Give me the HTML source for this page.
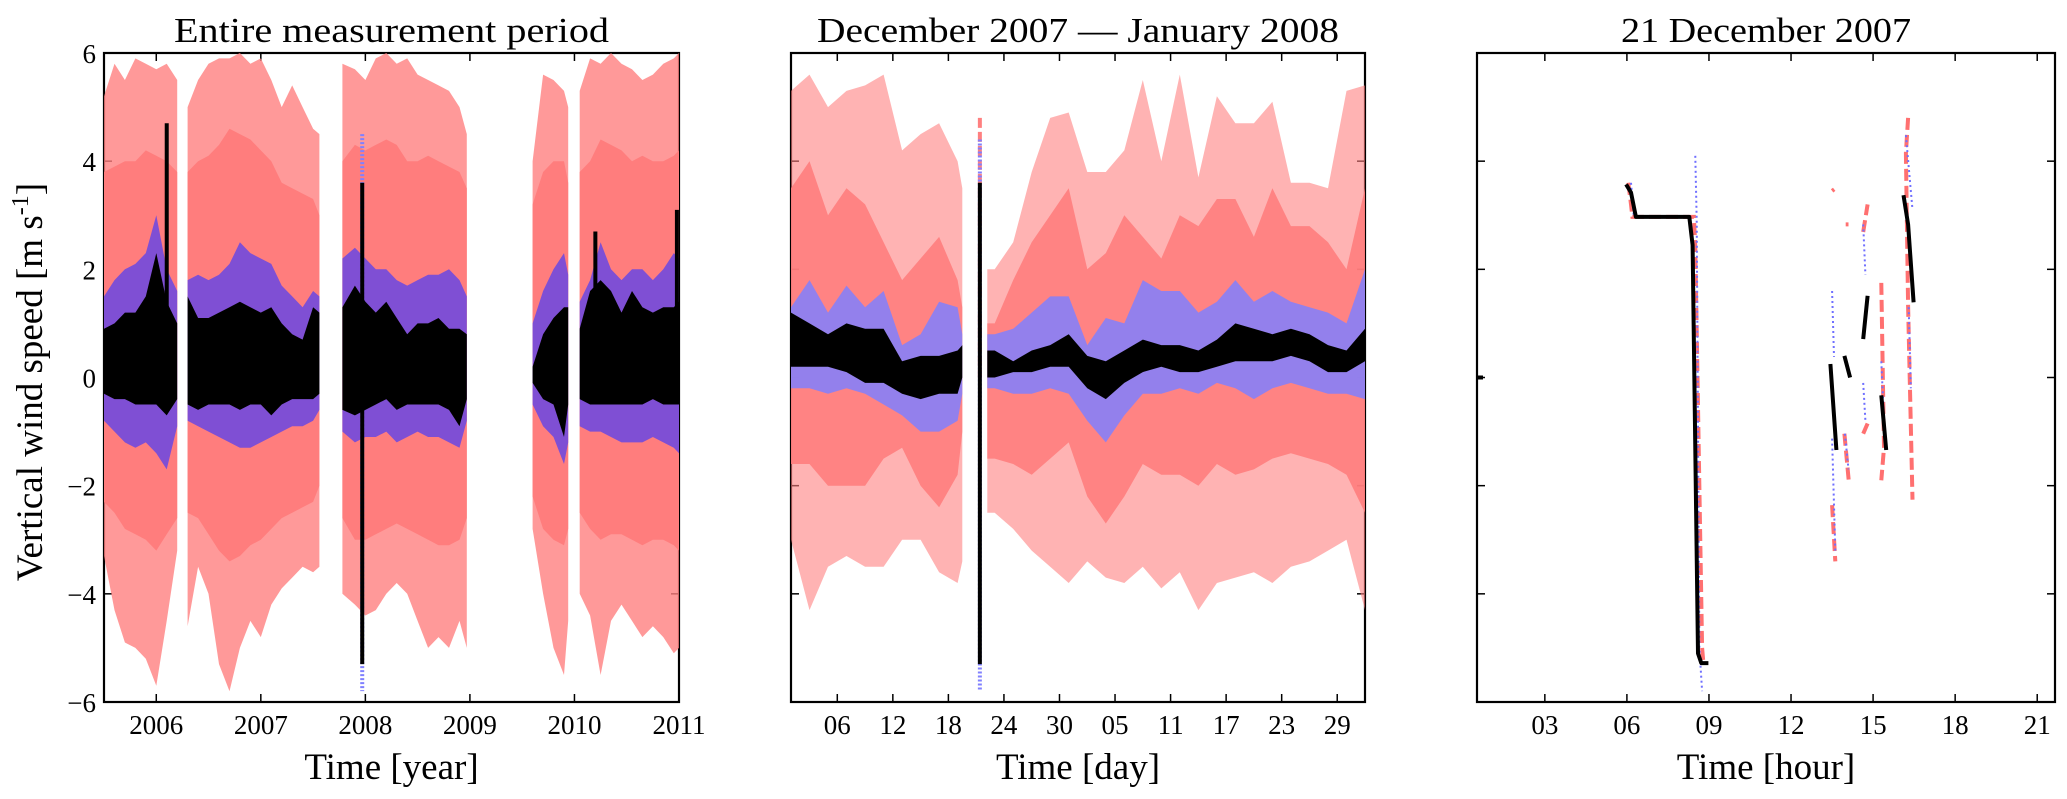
<!DOCTYPE html>
<html><head><meta charset="utf-8"><style>
html,body{margin:0;padding:0;background:#fff;}
svg{display:block;font-family:"Liberation Serif",serif;}
</style></head>
<body>
<svg id="fig" width="2067" height="799" viewBox="0 0 2067 799" xmlns="http://www.w3.org/2000/svg">
<rect width="2067" height="799" fill="#fff"/>
<text transform="translate(42,382) rotate(-90)" text-anchor="middle" font-size="37" fill="#000">Vertical wind speed [m s<tspan font-size="24" dy="-14">-1</tspan><tspan dy="14">]</tspan></text>
</svg>
<script>
// ===== Panel 1 data (year) ; null in t marks a gap =====
const t1 = [2005.5,2005.6,2005.7,2005.8,2005.9,2006.0,2006.1,2006.2,null,
 2006.3,2006.4,2006.5,2006.6,2006.7,2006.8,2006.9,2007.0,2007.1,2007.2,2007.3,2007.4,2007.5,2007.56,null,
 2007.78,2007.9,2008.0,2008.1,2008.2,2008.3,2008.4,2008.5,2008.6,2008.7,2008.8,2008.9,2008.97,null,
 2009.6,2009.7,2009.8,2009.9,2009.94,null,
 2010.05,2010.15,2010.25,2010.35,2010.45,2010.55,2010.65,2010.75,2010.85,2010.95,2011.0];
const redHi1 = [5.2,5.8,5.5,5.9,5.8,5.7,5.8,5.5,null, 5.0,5.5,5.8,5.9,5.9,6.0,5.8,5.9,5.5,5.0,5.4,5.0,4.6,4.5,null, 5.8,5.7,5.5,5.9,6.0,5.8,5.9,5.6,5.5,5.4,5.3,5.0,4.5,null, 4.0,5.6,5.5,5.3,5.0,null, 5.3,5.9,5.8,6.0,5.8,5.7,5.5,5.6,5.8,5.9,6.0];
const redLo1 = [-3.3,-4.3,-4.9,-5.0,-5.2,-5.7,-4.5,-3.2,null, -4.6,-3.5,-4.0,-5.3,-5.8,-5.0,-4.5,-4.8,-4.2,-3.9,-3.7,-3.5,-3.6,-3.5,null, -4.0,-4.2,-4.4,-4.3,-4.0,-3.8,-4.0,-4.5,-5.0,-4.8,-5.0,-4.5,-5.0,null, -2.8,-4.0,-5.0,-5.5,-4.5,null, -4.0,-4.4,-5.5,-4.5,-4.2,-4.5,-4.8,-4.6,-4.8,-5.1,-5.0];
const coreHi1 = [3.8,3.9,4.0,4.0,4.2,4.1,4.0,3.8,null, 3.8,4.0,4.1,4.3,4.6,4.5,4.4,4.2,4.0,3.6,3.5,3.4,3.3,3.0,null, 4.0,4.3,4.2,4.3,4.4,4.3,4.0,4.0,4.1,4.0,3.9,3.8,3.5,null, 3.2,3.8,4.0,4.0,3.6,null, 3.8,4.0,4.4,4.3,4.2,4.0,4.1,4.0,4.0,4.1,4.2];
const coreLo1 = [-2.3,-2.5,-2.8,-2.9,-3.0,-3.2,-2.9,-2.6,null, -2.5,-2.6,-2.9,-3.2,-3.4,-3.3,-3.1,-3.0,-2.8,-2.6,-2.5,-2.4,-2.3,-2.0,null, -2.6,-3.0,-3.0,-2.9,-2.8,-2.7,-2.8,-2.9,-3.0,-3.1,-3.1,-3.0,-2.6,null, -2.2,-2.8,-3.0,-3.1,-2.8,null, -2.5,-2.8,-3.0,-2.9,-2.9,-3.0,-3.1,-3.0,-3.0,-3.1,-3.2];
const blueHi1 = [1.5,1.8,2.0,2.1,2.3,3.0,2.0,1.6,null, 1.8,1.9,1.8,1.9,2.1,2.5,2.3,2.2,2.1,1.7,1.5,1.3,1.6,1.5,null, 2.2,2.4,2.2,2.0,2.0,1.8,1.7,1.8,1.9,1.9,2.0,1.8,1.5,null, 1.0,1.6,2.0,2.3,1.9,null, 1.4,1.8,2.5,2.0,1.8,2.0,2.0,1.8,2.0,2.3,2.2];
const blueLo1 = [-0.8,-1.0,-1.2,-1.3,-1.2,-1.4,-1.7,-0.9,null, -0.8,-0.9,-1.0,-1.1,-1.2,-1.3,-1.3,-1.2,-1.1,-1.0,-0.9,-0.9,-0.8,-0.6,null, -1.0,-1.2,-1.1,-1.1,-1.0,-1.2,-1.1,-1.0,-1.1,-1.1,-1.2,-1.3,-0.8,null, -0.5,-0.9,-1.1,-1.6,-1.2,null, -0.9,-1.0,-1.0,-1.1,-1.2,-1.2,-1.2,-1.1,-1.2,-1.3,-1.4];
const blackHi1 = [0.9,1.0,1.2,1.2,1.5,2.3,1.4,1.0,null, 1.5,1.1,1.1,1.2,1.3,1.4,1.3,1.2,1.3,1.0,0.8,0.7,1.3,1.2,null, 1.3,1.7,1.4,1.2,1.4,1.1,0.8,1.0,1.0,1.1,0.9,0.9,0.8,null, 0.2,0.8,1.1,1.3,1.3,null, 0.9,1.6,1.8,1.6,1.2,1.6,1.3,1.2,1.3,1.3,1.4];
const blackLo1 = [-0.3,-0.4,-0.4,-0.5,-0.5,-0.5,-0.7,-0.4,null, -0.5,-0.6,-0.5,-0.5,-0.5,-0.6,-0.5,-0.5,-0.7,-0.5,-0.4,-0.4,-0.4,-0.3,null, -0.6,-0.7,-0.6,-0.5,-0.4,-0.6,-0.5,-0.5,-0.5,-0.5,-0.6,-0.9,-0.4,null, -0.1,-0.4,-0.5,-1.1,-0.5,null, -0.4,-0.5,-0.5,-0.5,-0.5,-0.5,-0.5,-0.4,-0.5,-0.5,-0.5];
const spikeT1 = [2006.1, 2007.97, 2010.2, 2010.98];
const spikeHi1 = [4.7, 3.6, 2.7, 3.1];
const spikeLo1 = [0.0, -5.3, 0.0, 0.0];
const blueSpikeT1 = [2007.97];
const blueSpikeHi1 = [4.5];
const blueSpikeLo1 = [-5.8];
const xTicks1 = [2006,2007,2008,2009,2010,2011];
const xTickLabels1 = ["2006","2007","2008","2009","2010","2011"];
const yTicks = [-6,-4,-2,0,2,4,6];
const yTickLabels = ["\u22126","\u22124","\u22122","0","2","4","6"];

// ===== Panel 2 data (days since 1 Dec 2007) =====
const t2 = [0,2,4,6,8,10,12,14,16,18,18.5,null,21.2,22,24,26,28,30,32,34,36,38,40,42,44,46,48,50,52,54,56,58,60,62];
const redHi2 = [5.3,5.6,5.0,5.3,5.4,5.6,4.2,4.5,4.7,4.0,3.5,null,2.0,2.0,2.5,3.8,4.8,4.9,3.8,3.8,4.2,5.5,4.0,5.6,3.7,5.2,4.7,4.7,5.1,3.6,3.6,3.5,5.3,5.4];
const coreHi2 = [3.5,4.0,3.0,3.5,3.2,2.5,1.8,2.2,2.6,1.8,1.3,null,1.0,1.0,1.8,2.5,3.0,3.5,2.0,2.3,3.0,2.6,2.2,3.0,2.8,3.3,3.3,2.6,3.5,2.8,2.8,2.5,2.0,3.5];
const coreLo2 = [-1.6,-1.6,-2.0,-2.0,-2.0,-1.5,-1.3,-2.0,-2.4,-1.8,-1.0,null,-1.5,-1.5,-1.6,-1.8,-1.5,-1.2,-2.2,-2.7,-2.2,-1.6,-1.8,-1.8,-2.0,-1.6,-1.8,-1.7,-1.5,-1.4,-1.5,-1.6,-1.8,-2.5];
const redLo2 = [-3.0,-4.3,-3.5,-3.3,-3.5,-3.5,-3.0,-3.0,-3.6,-3.8,-3.4,null,-2.5,-2.5,-2.8,-3.2,-3.5,-3.8,-3.4,-3.7,-3.8,-3.5,-3.9,-3.6,-4.3,-3.8,-3.7,-3.6,-3.8,-3.5,-3.4,-3.2,-3.0,-4.3];
const blueHi2 = [1.3,1.8,1.2,1.7,1.3,1.6,0.6,0.8,1.4,1.3,0.8,null,0.8,0.8,0.9,1.2,1.5,1.5,0.6,1.1,1.0,1.8,1.6,1.6,1.2,1.4,1.8,1.4,1.6,1.4,1.3,1.2,1.0,2.0];
const blueLo2 = [-0.2,-0.2,-0.3,-0.2,-0.3,-0.5,-0.7,-1.0,-1.0,-0.8,-0.3,null,-0.2,-0.2,-0.3,-0.3,-0.2,-0.3,-0.8,-1.2,-0.7,-0.3,-0.3,-0.2,-0.3,-0.1,-0.2,-0.4,-0.2,-0.1,-0.2,-0.3,-0.3,-0.4];
const blackHi2 = [1.2,1.0,0.8,1.0,0.9,0.9,0.3,0.4,0.4,0.5,0.6,null,0.5,0.5,0.3,0.5,0.6,0.8,0.4,0.3,0.5,0.7,0.6,0.6,0.5,0.7,1.0,0.9,0.8,0.9,0.8,0.6,0.5,0.9];
const blackLo2 = [0.2,0.2,0.2,0.1,-0.1,-0.1,-0.3,-0.4,-0.3,-0.3,0.0,null,0.0,0.0,0.1,0.1,0.2,0.2,-0.2,-0.4,-0.1,0.1,0.2,0.1,0.1,0.2,0.3,0.3,0.3,0.4,0.3,0.1,0.1,0.3];
const spikeT2 = [20.4];
const spikeHi2 = [3.6];
const spikeLo2 = [-5.3];
const blueSpikeHi2 = [4.4];
const blueSpikeLo2 = [-5.8];
const redSpikeHi2 = [4.8];
const xTicks2 = [5,11,17,23,29,35,41,47,53,59];
const xTickLabels2 = ["06","12","18","24","30","05","11","17","23","29"];

// ===== Panel 3 data (hours of 21 Dec 2007); null splits line pieces =====
const hK = [5.97,6.15,6.33,8.28,8.4,8.6,8.72,8.98,null,13.44,13.66,null,13.95,14.16,null,14.64,14.8,null,15.3,15.48,null,16.11,16.28,16.48];
const vK = [3.57,3.42,2.97,2.97,2.45,-5.1,-5.28,-5.28,null,0.25,-1.34,null,0.4,0.0,null,0.71,1.51,null,-0.33,-1.34,null,3.37,2.83,1.39];
const hR = [6.05,6.15,6.2,8.45,8.5,8.75,8.8,null,13.5,13.58,null,14.0,14.1,null,14.64,14.8,null,15.3,15.4,15.3,null,13.95,14.11,null,13.5,13.62,null,14.64,14.8,null,16.28,16.2,16.28,16.44];
const vR = [3.6,3.2,2.97,2.97,2.4,-5.0,-5.3,null,3.45,3.48,null,2.83,2.83,null,2.69,3.2,null,1.75,-1.3,-1.9,null,-1.04,-1.9,null,-2.36,-3.4,null,-1.04,-0.85,null,4.8,4.15,1.32,-2.26];
const hB = [6.15,6.25,null,8.5,8.55,8.65,8.75,null,13.5,13.57,null,13.5,13.62,null,13.97,14.1,null,14.64,14.72,null,14.64,14.72,null,15.3,15.38,null,16.2,16.44,null,16.3,16.38];
const vB = [3.6,3.0,null,4.1,2.9,-5.0,-5.8,null,1.6,0.38,null,-1.13,-3.2,null,-1.04,-1.7,null,2.83,1.9,null,-0.1,-0.8,null,0.3,-0.6,null,4.48,3.1,null,1.3,-0.2];
const xTicks3 = [3,6,9,12,15,18,21];
const xTickLabels3 = ["03","06","09","12","15","18","21"];

const NS = "http://www.w3.org/2000/svg";
const svg = document.getElementById("fig");
const Y0 = 53, Y1 = 702;
function yS(v){ return Y1 - (v + 6) / 12 * (Y1 - Y0); }
function mk(tag, attrs, parent){ const e = document.createElementNS(NS, tag); for (const k in attrs) e.setAttribute(k, attrs[k]); (parent||svg).appendChild(e); return e; }

function bandPath(xs, t, hi, lo){
  let d = ""; let seg = [];
  const flush = () => {
    if (seg.length < 2) { seg = []; return; }
    d += "M" + seg.map(i => xs(t[i]).toFixed(1) + "," + yS(hi[i]).toFixed(1)).join("L");
    d += "L" + seg.slice().reverse().map(i => xs(t[i]).toFixed(1) + "," + yS(lo[i]).toFixed(1)).join("L") + "Z";
    seg = [];
  };
  for (let i = 0; i < t.length; i++){ if (t[i] === null) flush(); else seg.push(i); }
  flush();
  return d;
}
function linePath(xs, h, v){
  let d = ""; let start = true;
  for (let i = 0; i < h.length; i++){
    if (h[i] === null){ start = true; continue; }
    d += (start ? "M" : "L") + xs(h[i]).toFixed(1) + "," + yS(v[i]).toFixed(1);
    start = false;
  }
  return d;
}

function frame(g, X0, X1, xs, ticks, labels, showY, title, xtitle, tw){
  const clip = mk("clipPath", {id: "clip" + X0}, g);
  mk("rect", {x: X0, y: Y0, width: X1 - X0, height: Y1 - Y0}, clip);
  const tg = mk("g", {}, g);
  
  
  ticks.forEach((tv, i) => {
    const x = xs(tv);
    mk("line", {x1: x, x2: x, y1: Y1, y2: Y1 - 8, stroke: "#000", "stroke-width": 1.5}, g);
    mk("line", {x1: x, x2: x, y1: Y0, y2: Y0 + 8, stroke: "#000", "stroke-width": 1.5}, g);
    const tx = mk("text", {x: x, y: Y1 + 32, "text-anchor": "middle", "font-size": 27}, tg);
    
    
    tx.textContent = labels[i];
  });
  yTicks.forEach((v, i) => {
    const y = yS(v);
    mk("line", {x1: X0, x2: X0 + 8, y1: y, y2: y, stroke: "#000", "stroke-width": 1.5}, g);
    mk("line", {x1: X1, x2: X1 - 8, y1: y, y2: y, stroke: "#000", "stroke-width": 1.5}, g);
    if (showY){
      const tx = mk("text", {x: X0 - 8, y: y + 10, "text-anchor": "end", "font-size": 27}, g);
      
      
      tx.textContent = yTickLabels[i];
    }
  });
  const fr = mk("rect", {x: X0, y: Y0, width: X1 - X0, height: Y1 - Y0, fill: "none", stroke: "#000", "stroke-width": 2.2}, g);
  
  
  const ti = mk("text", {x: (X0 + X1) / 2, y: 42, "text-anchor": "middle", "font-size": 35, textLength: tw, lengthAdjust: "spacingAndGlyphs"}, g);
  
  
  ti.textContent = title;
  const xt = mk("text", {x: (X0 + X1) / 2, y: 779, "text-anchor": "middle", "font-size": 37}, g);
  
  
  xt.textContent = xtitle;
  return "url(#clip" + X0 + ")";
}

// ---- Panel 1 ----
(function(){
  const X0 = 104, X1 = 679, d0 = 2005.5, d1 = 2011.0;
  const xs = v => X0 + (v - d0) / (d1 - d0) * (X1 - X0);
  const g = mk("g", {});
  
  
  const cp = frame(g, X0, X1, xs, xTicks1, xTickLabels1, true, "Entire measurement period", "Time [year]", 435);
  const data = mk("g", {"clip-path": cp}, g);
  const r1 = mk("path", {d: bandPath(xs, t1, redHi1, redLo1), fill: "#ff8080", opacity: 0.8}, data);
  
  
  const r2 = mk("path", {d: bandPath(xs, t1, coreHi1, coreLo1), fill: "#ff7d7d"}, data);
  
  
  const b = mk("path", {d: bandPath(xs, t1, blueHi1, blueLo1), fill: "#7f4fd4"}, data);
  
  
  blueSpikeT1.forEach((tv, i) => {
    const l = mk("line", {x1: xs(tv), x2: xs(tv), y1: yS(blueSpikeHi1[i]), y2: yS(blueSpikeLo1[i]), stroke: "#8080ff", "stroke-width": 4, "stroke-dasharray": "2,2"}, data);
    
    
  });
  const k = mk("path", {d: bandPath(xs, t1, blackHi1, blackLo1), fill: "#000"}, data);
  
  
  spikeT1.forEach((tv, i) => {
    const l = mk("line", {x1: xs(tv), x2: xs(tv), y1: yS(spikeHi1[i]), y2: yS(spikeLo1[i]), stroke: "#000", "stroke-width": 4}, data);
    
    
  });
})();

// ---- Panel 2 ----
(function(){
  const X0 = 791, X1 = 1365, d0 = 0, d1 = 62;
  const xs = v => X0 + (v - d0) / (d1 - d0) * (X1 - X0);
  const g = mk("g", {});
  
  
  const cp = frame(g, X0, X1, xs, xTicks2, xTickLabels2, false, "December 2007 \u2014 January 2008", "Time [day]", 522);
  const data = mk("g", {"clip-path": cp}, g);
  const r1 = mk("path", {d: bandPath(xs, t2, redHi2, redLo2), fill: "#ff8080", opacity: 0.6}, data);
  
  
  const r2 = mk("path", {d: bandPath(xs, t2, coreHi2, coreLo2), fill: "#ff7d7d", opacity: 0.9}, data);
  
  
  const b = mk("path", {d: bandPath(xs, t2, blueHi2, blueLo2), fill: "#8080ff", opacity: 0.85}, data);
  
  
  const k = mk("path", {d: bandPath(xs, t2, blackHi2, blackLo2), fill: "#000"}, data);
  
  
  spikeT2.forEach((tv, i) => {
    const rl = mk("line", {x1: xs(tv), x2: xs(tv), y1: yS(redSpikeHi2[i]), y2: yS(0), stroke: "#ff8080", "stroke-width": 4, "stroke-dasharray": "10,4"}, data);
    
    
    const bl = mk("line", {x1: xs(tv), x2: xs(tv), y1: yS(blueSpikeHi2[i]), y2: yS(blueSpikeLo2[i]), stroke: "#8080ff", "stroke-width": 4, "stroke-dasharray": "2,2"}, data);
    
    
    const kl = mk("line", {x1: xs(tv), x2: xs(tv), y1: yS(spikeHi2[i]), y2: yS(spikeLo2[i]), stroke: "#000", "stroke-width": 4}, data);
    
    
  });
})();

// ---- Panel 3 ----
(function(){
  const X0 = 1477, X1 = 2055, d0 = 0.52, d1 = 21.65;
  const xs = v => X0 + (v - d0) / (d1 - d0) * (X1 - X0);
  const g = mk("g", {});
  
  
  const cp = frame(g, X0, X1, xs, xTicks3, xTickLabels3, false, "21 December 2007", "Time [hour]", 290);
  const data = mk("g", {"clip-path": cp}, g);
  const r = mk("path", {d: linePath(xs, hR, vR), fill: "none", stroke: "#ff7070", "stroke-width": 4, "stroke-dasharray": "12,5"}, data);
  
  
  const b = mk("path", {d: linePath(xs, hB, vB), fill: "none", stroke: "#6f6fff", "stroke-width": 2, "stroke-dasharray": "2,3"}, data);
  
  
  const k = mk("path", {d: linePath(xs, hK, vK), fill: "none", stroke: "#000", "stroke-width": 4, "stroke-linejoin": "round"}, data);
  
  
  const m = mk("line", {x1: X0, x2: X0 + 6, y1: yS(0), y2: yS(0), stroke: "#000", "stroke-width": 4}, data);
  
  
})();
</script>
</body></html>
